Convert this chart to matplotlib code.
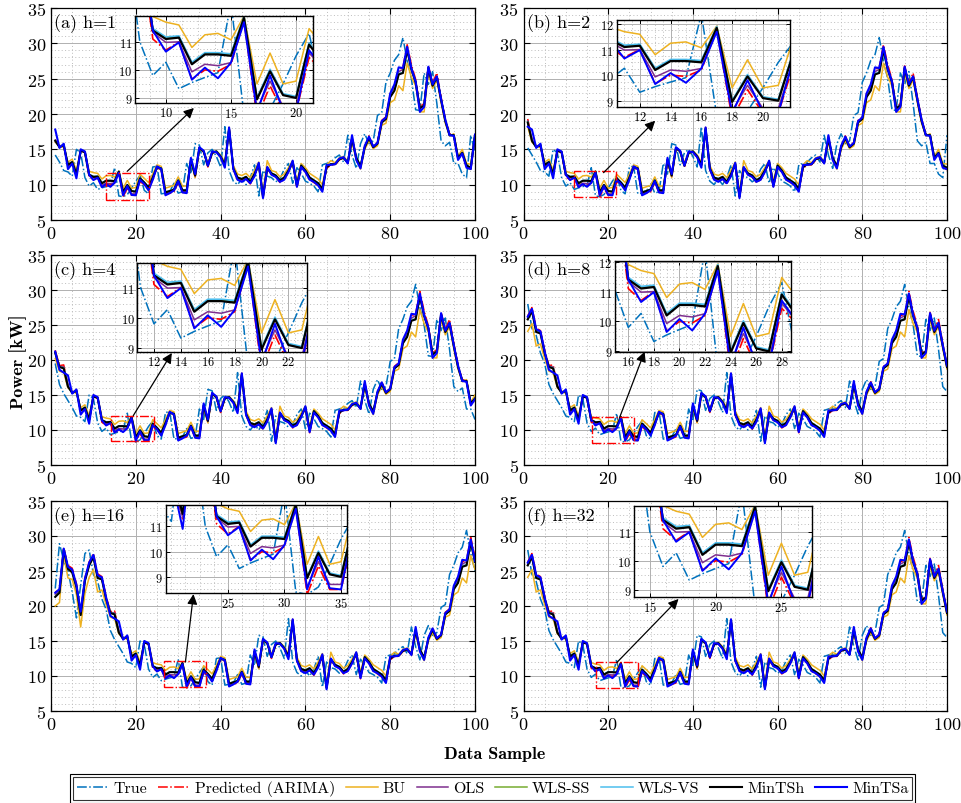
import numpy as np
import matplotlib
matplotlib.use("Agg")
import matplotlib.pyplot as plt
from matplotlib.ticker import MultipleLocator, AutoMinorLocator
from matplotlib.patches import Rectangle

plt.rcParams['font.family'] = ['cmr10', 'DejaVu Serif']
plt.rcParams['mathtext.fontset'] = 'cm'
plt.rcParams['axes.formatter.use_mathtext'] = True

# ---------------- data (shared sample index, x_a = -14 .. 100) ----------------
sample_index = np.arange(-14, 101)

true_vals = [22.5, 28.9, 26.5, 25.0, 22.0, 18.3, 23.0, 27.5, 28.0, 24.5,
             23.5, 21.0, 19.5, 16.5, 15.2, 14.2, 13.2, 12.0, 11.8, 11.2,
             15.0, 14.5, 11.0, 9.8, 10.27, 9.33, 9.55, 9.73, 9.9, 12.4,
             8.4, 8.3, 8.6, 9.5, 10.5, 11.3, 9.2, 8.7, 12.5, 12.6,
             8.7, 8.8, 9.0, 10.2, 8.8, 9.0, 13.0, 11.5, 15.8, 15.6,
             12.8, 14.5, 15.0, 14.0, 12.5, 18.2, 12.0, 10.5, 10.0, 10.8,
             10.0, 11.0, 12.8, 8.4, 12.0, 11.2, 11.0, 10.4, 10.8, 12.2,
             13.0, 10.2, 12.4, 11.6, 10.5, 10.2, 9.8, 9.0, 12.8, 13.0,
             13.2, 13.8, 14.2, 13.2, 17.0, 14.2, 12.3, 15.8, 17.2, 15.8,
             16.2, 19.8, 20.2, 24.5, 25.8, 27.6, 28.4, 30.8, 27.5, 25.0,
             20.6, 20.5, 25.8, 24.2, 26.0, 21.5, 16.2, 15.5, 16.0, 13.0,
             13.0, 11.5, 11.0, 17.0, 14.5]

arima_vals = [22.0, 22.3, 28.3, 25.8, 25.4, 23.2, 19.0, 24.0, 26.3, 27.5,
              24.6, 24.2, 21.4, 19.2, 19.3, 16.4, 15.4, 15.6, 12.6, 13.1,
              11.3, 14.8, 14.5, 11.1, 10.7, 11.0, 9.67, 10.0, 9.95, 10.2,
              11.77, 8.3, 9.43, 8.5, 8.5, 10.44, 10.0, 9.3, 10.8, 12.4,
              12.1, 8.6, 8.8, 9.0, 10.3, 8.9, 8.9, 13.4, 11.1, 15.2,
              14.6, 12.5, 14.5, 14.6, 13.9, 12.6, 18.1, 12.1, 10.7, 10.5,
              10.8, 10.1, 11.3, 12.8, 8.2, 12.2, 11.4, 11.1, 10.3, 10.7,
              11.8, 13.1, 9.6, 12.5, 11.8, 10.7, 10.3, 9.9, 9.1, 12.3,
              12.8, 12.8, 13.5, 13.8, 13.0, 16.8, 13.7, 12.4, 15.3, 16.9,
              15.4, 16.0, 19.1, 19.6, 22.8, 24.0, 26.3, 26.6, 29.8, 27.0,
              24.9, 21.0, 21.5, 26.8, 24.4, 25.8, 22.4, 19.3, 17.2, 17.1,
              13.6, 14.4, 12.5, 12.1, 16.9]

bu_vals = [20.0, 20.5, 27.3, 24.0, 23.8, 21.6, 17.0, 21.8, 24.1, 25.2,
           22.0, 22.3, 20.2, 18.4, 18.2, 16.0, 15.6, 15.2, 13.2, 13.6,
           12.0, 14.9, 14.7, 11.9, 11.7, 11.6, 10.8, 11.25, 11.3, 11.07,
           11.92, 9.5, 10.6, 9.5, 9.6, 11.47, 10.9, 10.3, 11.5, 12.8,
           12.6, 9.5, 9.7, 9.9, 11.1, 9.8, 9.8, 13.3, 11.0, 15.0,
           14.8, 13.1, 14.6, 14.8, 14.2, 13.2, 17.6, 12.7, 11.5, 11.3,
           11.6, 11.0, 12.0, 13.2, 8.9, 13.4, 12.0, 11.8, 11.1, 11.5,
           12.4, 13.4, 10.5, 13.0, 12.4, 11.6, 11.2, 10.8, 10.0, 12.8,
           13.4, 13.1, 13.8, 14.0, 13.3, 16.0, 13.5, 12.2, 15.0, 16.2,
           15.1, 15.5, 18.4, 18.7, 21.6, 22.0, 24.0, 23.3, 27.2, 25.2,
           24.0, 20.3, 20.3, 25.8, 23.6, 24.8, 21.6, 18.7, 16.9, 17.2,
           14.0, 15.0, 13.0, 12.9, 17.0]

ols_vals = [21.7, 22.1, 28.2, 25.6, 25.1, 23.0, 18.9, 23.8, 26.0, 27.3,
            24.3, 24.0, 21.2, 19.1, 19.0, 16.3, 15.3, 15.6, 12.7, 13.1,
            11.35, 14.8, 14.6, 11.33, 10.98, 11.0, 9.93, 10.2, 10.15, 10.26,
            11.8, 8.6, 9.6, 8.7, 8.7, 10.6, 10.1, 9.4, 10.8, 12.4,
            12.2, 8.7, 8.9, 9.1, 10.4, 9.0, 9.0, 13.5, 11.2, 15.2,
            14.7, 12.6, 14.5, 14.7, 14.0, 12.7, 18.0, 12.2, 10.8, 10.6,
            10.9, 10.2, 11.4, 12.8, 8.3, 12.3, 11.5, 11.2, 10.4, 10.8,
            11.9, 13.1, 9.7, 12.6, 11.9, 10.8, 10.4, 10.0, 9.2, 12.4,
            12.9, 12.9, 13.6, 13.8, 13.1, 16.6, 13.8, 12.5, 15.3, 16.7,
            15.3, 15.9, 18.9, 19.4, 22.6, 23.7, 26.0, 26.3, 29.4, 26.6,
            24.7, 20.9, 21.3, 26.6, 24.2, 25.4, 22.2, 19.1, 17.1, 17.0,
            13.7, 14.5, 12.6, 12.2, 17.0]

wls_ss_vals = [21.33, 21.93, 28.03, 25.33, 24.83, 22.73, 18.73, 23.63, 25.83, 27.03,
               24.03, 23.83, 21.03, 19.03, 18.83, 16.23, 15.33, 15.63, 12.83, 13.23,
               11.53, 14.82, 14.62, 11.43, 11.13, 11.18, 10.23, 10.58, 10.58, 10.53,
               11.87, 8.98, 9.98, 9.12, 9.03, 10.93, 10.33, 9.63, 11.03, 12.52,
               12.33, 8.93, 9.13, 9.33, 10.63, 9.23, 9.23, 13.52, 11.32, 15.22,
               14.72, 12.72, 14.52, 14.72, 14.02, 12.82, 17.92, 12.32, 11.03, 10.83,
               11.13, 10.43, 11.53, 12.92, 8.33, 12.42, 11.62, 11.32, 10.63, 11.03,
               12.02, 13.22, 9.93, 12.72, 12.02, 11.03, 10.63, 10.23, 9.43, 12.52,
               12.92, 12.92, 13.62, 13.82, 13.12, 16.52, 13.82, 12.62, 15.32, 16.62,
               15.32, 15.82, 18.82, 19.32, 22.42, 23.35, 25.65, 25.85, 29.15, 26.35,
               24.52, 20.82, 21.22, 26.52, 24.02, 25.22, 22.02, 19.02, 17.02, 17.02,
               13.82, 14.52, 12.72, 12.42, 17.02]

wls_vs_vals = [21.36, 21.96, 28.06, 25.36, 24.86, 22.76, 18.76, 23.66, 25.86, 27.06,
               24.06, 23.86, 21.06, 19.06, 18.86, 16.26, 15.36, 15.66, 12.86, 13.26,
               11.56, 14.85, 14.65, 11.47, 11.17, 11.21, 10.27, 10.61, 10.61, 10.57,
               11.9, 9.0, 10.02, 9.15, 9.05, 10.96, 10.36, 9.66, 11.06, 12.55,
               12.35, 8.96, 9.16, 9.36, 10.66, 9.26, 9.26, 13.55, 11.35, 15.25,
               14.75, 12.75, 14.55, 14.75, 14.05, 12.85, 17.95, 12.35, 11.06, 10.86,
               11.16, 10.46, 11.56, 12.95, 8.36, 12.45, 11.65, 11.35, 10.66, 11.06,
               12.05, 13.25, 9.96, 12.75, 12.05, 11.06, 10.66, 10.26, 9.46, 12.55,
               12.95, 12.95, 13.65, 13.85, 13.15, 16.55, 13.85, 12.65, 15.35, 16.65,
               15.35, 15.85, 18.85, 19.35, 22.45, 23.4, 25.7, 25.9, 29.2, 26.4,
               24.55, 20.85, 21.25, 26.55, 24.05, 25.25, 22.05, 19.05, 17.05, 17.05,
               13.85, 14.55, 12.75, 12.45, 17.05]

mintsh_vals = [21.3, 21.9, 28.0, 25.3, 24.8, 22.7, 18.7, 23.6, 25.8, 27.0,
               24.0, 23.8, 21.0, 19.0, 18.8, 16.2, 15.3, 15.6, 12.8, 13.2,
               11.5, 14.8, 14.6, 11.4, 11.1, 11.15, 10.2, 10.55, 10.55, 10.5,
               11.85, 8.95, 9.95, 9.1, 9.0, 10.9, 10.3, 9.6, 11.0, 12.5,
               12.3, 8.9, 9.1, 9.3, 10.6, 9.2, 9.2, 13.5, 11.3, 15.2,
               14.7, 12.7, 14.5, 14.7, 14.0, 12.8, 17.9, 12.3, 11.0, 10.8,
               11.1, 10.4, 11.5, 12.9, 8.3, 12.4, 11.6, 11.3, 10.6, 11.0,
               12.0, 13.2, 9.9, 12.7, 12.0, 11.0, 10.6, 10.2, 9.4, 12.5,
               12.9, 12.9, 13.6, 13.8, 13.1, 16.5, 13.8, 12.6, 15.3, 16.6,
               15.3, 15.8, 18.8, 19.3, 22.4, 23.3, 25.6, 25.8, 29.1, 26.3,
               24.5, 20.8, 21.2, 26.5, 24.0, 25.2, 22.0, 19.0, 17.0, 17.0,
               13.8, 14.5, 12.7, 12.4, 17.0]

mintsa_vals = [21.9, 22.4, 28.2, 25.6, 25.2, 23.0, 19.2, 23.9, 26.2, 27.3,
               24.4, 24.1, 21.2, 18.6, 18.2, 17.8, 15.2, 15.8, 12.2, 13.0,
               10.9, 15.0, 14.7, 11.4, 10.65, 10.98, 9.65, 10.08, 9.7, 10.26,
               11.7, 8.5, 9.8, 8.55, 8.5, 10.7, 10.1, 9.2, 10.7, 12.6,
               12.2, 8.5, 8.8, 9.2, 10.5, 8.9, 8.8, 13.8, 11.5, 15.3,
               14.8, 12.7, 14.7, 14.6, 13.9, 12.4, 18.1, 12.2, 10.7, 10.4,
               10.8, 10.2, 11.2, 13.1, 8.1, 12.5, 11.4, 11.1, 10.4, 10.7,
               11.8, 13.4, 9.7, 12.5, 11.8, 10.7, 10.4, 9.9, 9.0, 12.8,
               12.8, 12.9, 13.7, 13.9, 13.0, 17.0, 13.5, 12.3, 15.5, 16.8,
               15.4, 15.9, 19.0, 19.5, 22.9, 24.2, 26.6, 26.5, 29.5, 26.4,
               24.6, 20.3, 21.0, 26.7, 24.2, 25.3, 22.1, 19.2, 17.0, 16.9,
               13.5, 14.4, 12.4, 12.2, 17.1]

series_names = ['True', 'Predicted (ARIMA)', 'BU', 'OLS', 'WLS-SS', 'WLS-VS', 'MinTSh', 'MinTSa']
series_data = [true_vals, arima_vals, bu_vals, ols_vals, wls_ss_vals, wls_vs_vals,
               mintsh_vals, mintsa_vals]

horizons = [1, 2, 4, 8, 16, 32]
panel_letters = ['a', 'b', 'c', 'd', 'e', 'f']
window_offsets = [0, 1, 3, 7, 15, 7]   # sample shift of each displayed window
x_samples = np.arange(1, 101)

inset_xlims = [(7.63, 21.3), (10.5, 21.76), (10.76, 23.36), (14.96, 28.7), (19.5, 35.5), (13.8, 27.3)]
inset_ylims = [(8.82, 11.92), (8.74, 12.17), (8.86, 11.8), (8.97, 12.03), (8.36, 11.85), (8.74, 11.87)]
inset_xticks = [[10, 15, 20], [12, 14, 16, 18, 20], [12, 14, 16, 18, 20, 22],
                [16, 18, 20, 22, 24, 26, 28], [25, 30, 35], [15, 20, 25]]
inset_yticks = [[9, 10, 11], [9, 10, 11, 12], [9, 10, 11], [9, 10, 11, 12], [9, 10, 11], [9, 10, 11]]
zoom_boxes = [(13.0, 23.0, 7.9, 11.6), (12.0, 21.9, 8.3, 11.9), (14.2, 24.3, 8.4, 12.05),
              (16.1, 26.0, 8.2, 11.8), (26.6, 36.6, 8.4, 12.1), (17.1, 27.1, 8.3, 12.0)]
arrow_tails = [(18.0, 11.9), (18.9, 11.7), (19.4, 12.05), (22.7, 11.8), (31.7, 12.0), (22.0, 11.9)]
arrow_heads = [(33.7, 20.85), (31.1, 19.05), (28.5, 21.0), (28.6, 21.2), (33.6, 21.7), (36.6, 21.0)]

# ---------------- styles / layout ----------------
colors = ['#0072BD', '#FF0000', '#EDB120', '#7E2F8E', '#77AC30', '#4DBEEE', '#000000', '#0000FF']
styles = ['-.', '-.', '-', '-', '-', '-', '-', '-']
widths_main = [1.1, 1.1, 1.1, 1.1, 1.1, 1.1, 1.5, 1.5]
widths_inset = [1.1, 1.2, 1.1, 1.1, 1.1, 1.3, 1.6, 1.4]

W, H = 962, 804
main_boxes = [(51, 9, 475, 221), (523.5, 9, 947, 221),
              (51, 256, 475, 466), (523.5, 256, 947, 466),
              (51, 502, 475, 712), (523.5, 502, 947, 712)]
inset_boxes = [(135, 17, 313, 104), (616.7, 20.7, 790, 108.3),
               (137.3, 264.3, 306.7, 353.3), (615, 261.7, 790.7, 353.3),
               (165.7, 506, 346.7, 594), (634, 507.3, 811.7, 598.3)]


def frac(box):
    l, t, r, b = box
    return [l / W, 1 - b / H, (r - l) / W, (b - t) / H]


def style_grid(ax):
    ax.grid(True, which='major', color='#b0b0b0', linestyle='-', linewidth=0.7)
    ax.grid(True, which='minor', color='#bdbdbd', linestyle=(0, (1, 2.5)), linewidth=0.7)
    ax.set_axisbelow(True)
    ax.tick_params(which='both', direction='in', top=True, right=True)
    ax.tick_params(which='minor', length=0)
    for sp in ax.spines.values():
        sp.set_linewidth(0.9)
        sp.set_color('k')


fig = plt.figure(figsize=(W / 100, H / 100), dpi=100)
handles = []
for p in range(6):
    ax = fig.add_axes(frac(main_boxes[p]))
    off = window_offsets[p]
    start = 14 - off + 1
    for k in range(8):
        vals = np.asarray(series_data[k])[start:start + 100]
        ln, = ax.plot(x_samples, vals, styles[k], color=colors[k], lw=widths_main[k],
                      label=series_names[k])
        if p == 0:
            handles.append(ln)
    ax.set_xlim(0, 100)
    ax.set_ylim(5, 35)
    ax.xaxis.set_major_locator(MultipleLocator(20))
    ax.yaxis.set_major_locator(MultipleLocator(5))
    ax.xaxis.set_minor_locator(AutoMinorLocator(4))
    ax.yaxis.set_minor_locator(AutoMinorLocator(5))
    style_grid(ax)
    ax.tick_params(which='major', length=4, labelsize=13, width=0.8)
    ax.text(0.008, 0.975, f'({panel_letters[p]}) h={horizons[p]}', transform=ax.transAxes,
            ha='left', va='top', fontsize=13)
    x0, x1, y0, y1 = zoom_boxes[p]
    ax.add_patch(Rectangle((x0, y0), x1 - x0, y1 - y0, fill=False, edgecolor='#FF0000',
                           linestyle='-.', linewidth=1.0, zorder=5))
    ax.annotate('', xy=arrow_heads[p], xytext=arrow_tails[p],
                arrowprops=dict(arrowstyle='-|>', color='k', lw=0.9, mutation_scale=15,
                                shrinkA=0, shrinkB=0),
                annotation_clip=False, zorder=6)

    ins = fig.add_axes(frac(inset_boxes[p]))
    ins.set_facecolor('white')
    for k in range(8):
        vals = np.asarray(series_data[k])[start:start + 100]
        ins.plot(x_samples, vals, styles[k], color=colors[k], lw=widths_inset[k])
    ins.set_xlim(*inset_xlims[p])
    ins.set_ylim(*inset_ylims[p])
    ins.set_xticks(inset_xticks[p])
    ins.set_yticks(inset_yticks[p])
    ins.xaxis.set_minor_locator(AutoMinorLocator(4))
    ins.yaxis.set_minor_locator(AutoMinorLocator(4))
    style_grid(ins)
    ins.tick_params(which='major', length=3, labelsize=9, width=0.7, pad=2)
    for sp in ins.spines.values():
        sp.set_linewidth(1.0)

fig.text(0.514, 1 - 755 / H, 'Data Sample', ha='center', va='center', fontsize=13,
         family='cmb10')
fig.text(0.019, 1 - 362 / H, 'Power [kW]', ha='center', va='center', rotation=90,
         fontsize=13, family='cmb10')

leg = fig.legend(handles=handles, loc='center', bbox_to_anchor=(492.5 / W, 1 - 789.5 / H),
                 ncol=8, frameon=True, fancybox=False, edgecolor='k', fontsize=11.5,
                 handlelength=2.0, handletextpad=0.3, columnspacing=0.68, borderpad=0.25,
                 borderaxespad=0)
leg.get_frame().set_linewidth(0.8)
fig.canvas.draw()
bb = leg.get_window_extent(fig.canvas.get_renderer())
pad = 2.5
fig.patches.append(Rectangle(((bb.x0 - pad) / W, (bb.y0 - pad) / H),
                             (bb.width + 2 * pad) / W, (bb.height + 2 * pad) / H,
                             transform=fig.transFigure, fill=False, edgecolor='k',
                             linewidth=0.8))

fig.savefig('out.png', dpi=100)
